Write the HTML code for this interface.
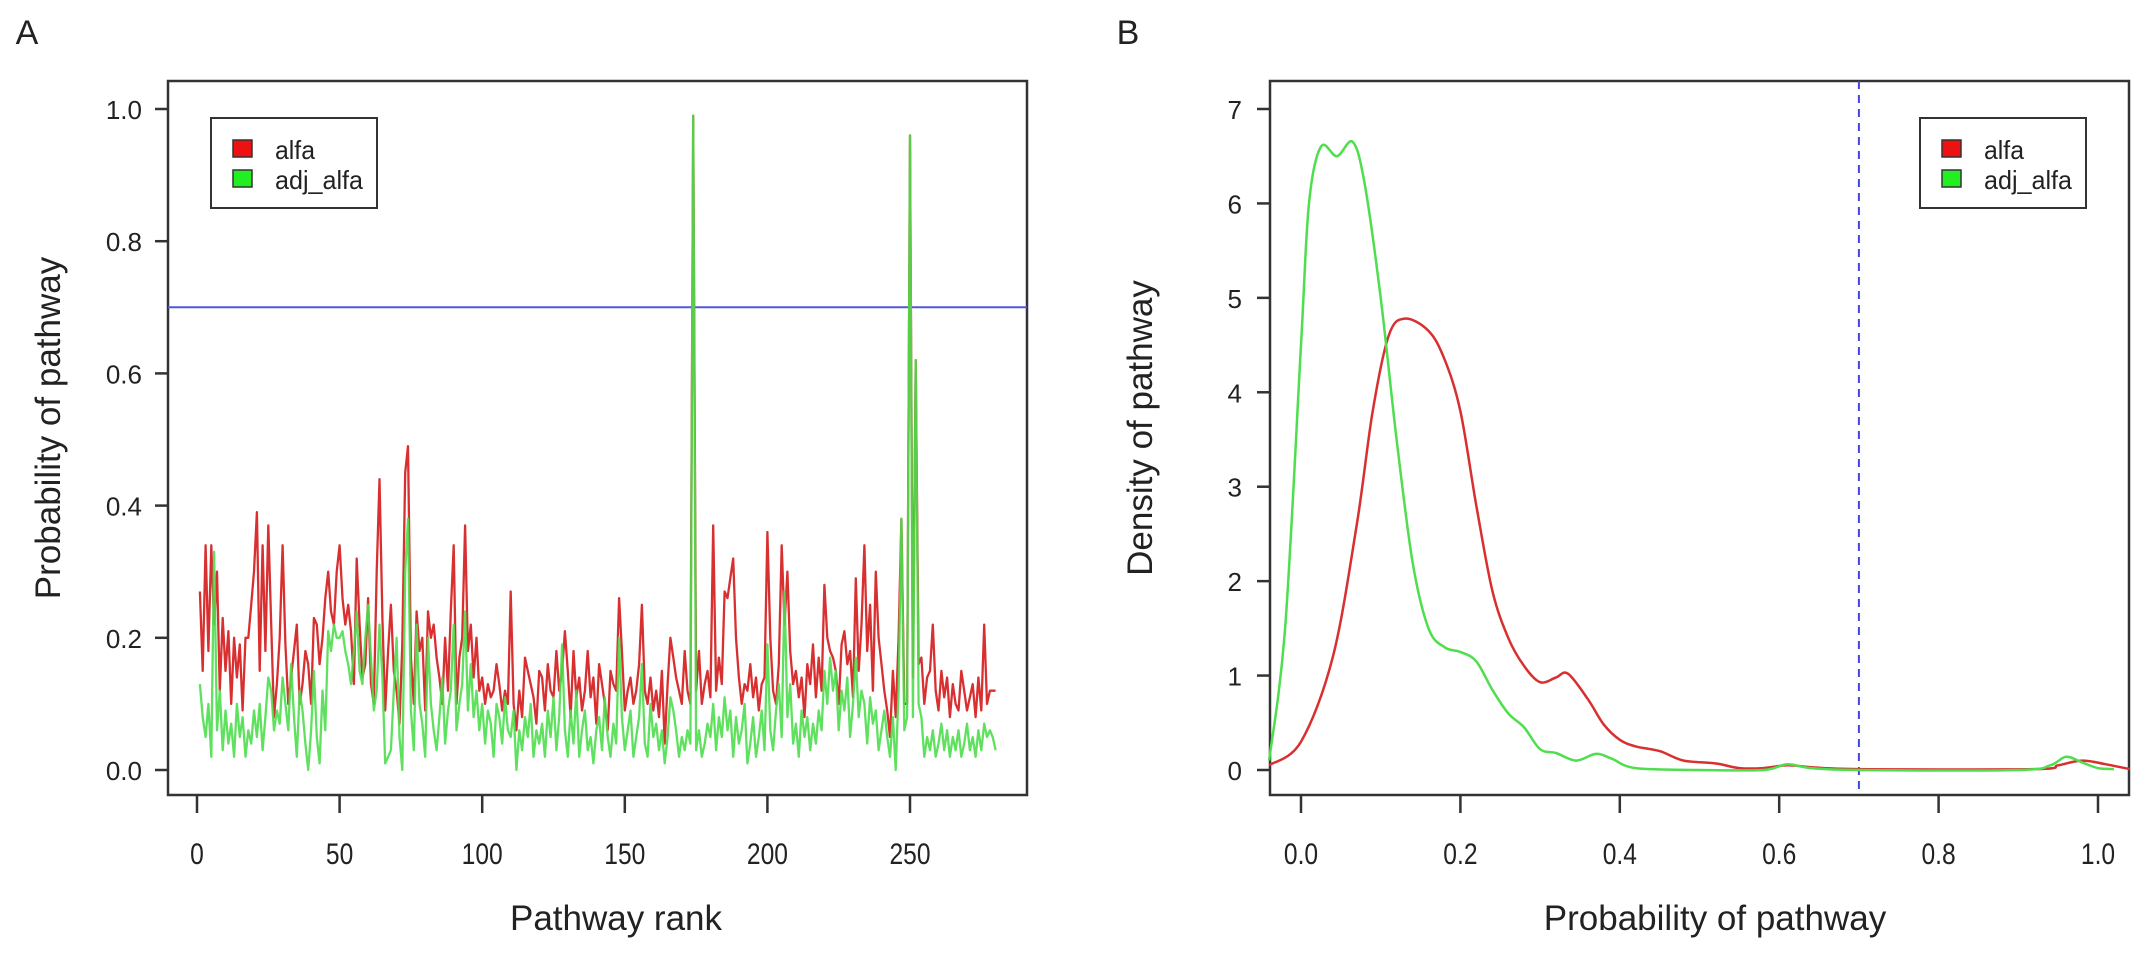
<!DOCTYPE html>
<html><head><meta charset="utf-8">
<style>
html,body{margin:0;padding:0;background:#fff;}
svg{display:block;font-family:"Liberation Sans",sans-serif;}
</style></head>
<body>
<svg id="chart" width="2150" height="958" viewBox="0 0 2150 958">
<rect x="0" y="0" width="2150" height="958" fill="#fff"/>
<g id="pa"></g>
<g id="pb"></g>
</svg>
<script>
const alfa = [
.27,.15,.34,.18,.34,.22,.30,.12,.23,.15,.21,.10,.20,.14,.19,.09,.20,.20,.25,.30,
.39,.15,.34,.18,.37,.22,.08,.13,.20,.34,.19,.10,.14,.18,.22,.10,.13,.18,.16,.10,
.23,.22,.16,.20,.26,.30,.24,.22,.30,.34,.26,.22,.25,.21,.13,.32,.22,.14,.16,.26,
.13,.10,.30,.44,.23,.09,.18,.25,.15,.12,.07,.19,.45,.49,.17,.10,.24,.18,.20,.09,
.24,.20,.22,.17,.14,.10,.20,.12,.24,.34,.10,.17,.20,.37,.18,.22,.14,.20,.12,.14,
.10,.13,.11,.12,.16,.13,.09,.12,.10,.27,.10,.06,.12,.08,.17,.15,.13,.11,.07,.15,
.14,.09,.16,.12,.11,.18,.12,.15,.21,.15,.08,.18,.11,.14,.09,.12,.18,.11,.14,.07,
.16,.13,.10,.06,.15,.13,.12,.26,.18,.09,.12,.14,.10,.12,.16,.25,.12,.10,.14,.09,
.12,.08,.15,.04,.13,.20,.17,.14,.12,.10,.18,.12,.10,.99,.12,.18,.10,.13,.15,.11,
.37,.12,.17,.13,.27,.26,.29,.32,.20,.14,.10,.13,.12,.16,.11,.14,.09,.13,.14,.36,
.20,.12,.10,.16,.34,.22,.30,.18,.13,.15,.11,.14,.08,.16,.13,.19,.11,.17,.12,.28,
.20,.18,.17,.15,.10,.19,.21,.16,.18,.11,.29,.15,.22,.34,.18,.25,.12,.30,.20,.16,
.12,.09,.05,.15,.08,.20,.38,.10,.10,.96,.14,.62,.16,.17,.10,.14,.15,.22,.12,.09,
.15,.11,.14,.08,.13,.10,.09,.15,.12,.09,.11,.13,.08,.14,.09,.22,.10,.12,.12,.12];
const adjAlfa = [
.13,.08,.05,.10,.02,.33,.06,.12,.03,.09,.04,.07,.02,.10,.05,.08,.02,.06,.04,.09,
.05,.10,.03,.08,.14,.12,.06,.09,.07,.14,.10,.06,.16,.08,.02,.12,.09,.04,.00,.06,
.15,.05,.01,.12,.06,.21,.18,.22,.20,.20,.21,.18,.16,.13,.18,.24,.15,.13,.20,.25,
.17,.09,.12,.22,.14,.01,.02,.03,.12,.20,.05,.00,.30,.38,.09,.03,.22,.10,.07,.02,
.20,.10,.06,.03,.08,.14,.04,.09,.12,.22,.06,.10,.13,.24,.09,.16,.08,.12,.06,.10,
.04,.09,.07,.02,.10,.08,.04,.11,.06,.05,.09,.00,.06,.03,.08,.05,.10,.02,.06,.04,
.07,.02,.09,.05,.11,.03,.08,.19,.06,.02,.09,.04,.12,.02,.06,.09,.03,.05,.01,.06,
.08,.03,.11,.05,.02,.07,.04,.20,.08,.03,.06,.09,.02,.05,.08,.16,.04,.02,.10,.05,
.07,.03,.06,.01,.05,.11,.09,.06,.02,.05,.03,.06,.04,.99,.03,.06,.02,.04,.07,.05,
.10,.03,.08,.05,.11,.06,.09,.02,.08,.04,.06,.10,.01,.04,.08,.02,.05,.09,.03,.19,
.06,.03,.09,.13,.05,.27,.08,.13,.04,.07,.02,.09,.05,.08,.03,.07,.04,.09,.06,.15,
.10,.17,.12,.15,.06,.12,.09,.14,.05,.10,.17,.08,.12,.10,.04,.11,.07,.09,.03,.06,
.09,.05,.02,.08,.00,.12,.38,.06,.08,.96,.08,.62,.10,.08,.02,.05,.03,.06,.02,.04,
.07,.03,.06,.02,.05,.03,.06,.02,.04,.07,.03,.05,.02,.06,.03,.07,.05,.06,.05,.03];
const aXTicks = [0,50,100,150,200,250];
const aYTicks = [0.0,0.2,0.4,0.6,0.8,1.0];
const aThreshold = 0.7;

const bGreenX = [-0.04,-0.02,0.0,0.01,0.025,0.045,0.065,0.08,0.1,0.12,0.14,0.16,0.18,0.2,0.22,0.24,0.26,0.28,0.3,0.32,0.345,0.37,0.39,0.42,0.5,0.58,0.61,0.64,0.7,0.9,0.94,0.96,0.98,1.0,1.02];
const bGreenY = [0.1,1.5,4.5,6.0,6.6,6.5,6.65,6.2,5.0,3.5,2.2,1.5,1.3,1.25,1.15,0.85,0.6,0.45,0.22,0.18,0.1,0.17,0.12,0.02,0,0,0.06,0.02,0,0,0.05,0.14,0.08,0.02,0.01];
const bRedX = [-0.04,0,0.04,0.07,0.09,0.11,0.13,0.16,0.18,0.2,0.22,0.24,0.26,0.28,0.3,0.32,0.335,0.36,0.38,0.4,0.42,0.45,0.48,0.52,0.55,0.58,0.61,0.64,0.7,0.92,0.95,0.98,1.01,1.04];
const bRedY = [0.05,0.3,1.2,2.6,3.8,4.6,4.78,4.65,4.35,3.8,2.8,1.9,1.4,1.1,0.93,0.98,1.02,0.75,0.48,0.32,0.25,0.2,0.1,0.07,0.02,0.02,0.05,0.03,0.01,0.01,0.05,0.1,0.06,0.01];
const bXTicks = [0.0,0.2,0.4,0.6,0.8,1.0];
const bXLabels = ["0.0","0.2","0.4","0.6","0.8","1.0"];
const bYTicks = [0,1,2,3,4,5,6,7];
const bThreshold = 0.7;

const NS="http://www.w3.org/2000/svg";
function mk(parent,tag,attrs,text){const e=document.createElementNS(NS,tag);for(const k in attrs)e.setAttribute(k,attrs[k]);if(text!==undefined)e.textContent=text;parent.appendChild(e);return e;}
const TXT="#222";
const RED="#d83030", GREEN="#4ede4e";

// Panel A
const pa=document.getElementById('pa');
const axX=v=>197+v*(910-197)/250;
const ayY=v=>770-v*661;
let e;
e=mk(pa,'text',{x:27,y:44,'font-size':34,'text-anchor':'middle',fill:TXT},'A');


e=mk(pa,'rect',{x:168,y:81,width:859,height:714,fill:'none',stroke:'#333','stroke-width':2.5});


aYTicks.forEach(t=>{
  const y=ayY(t);
  e=mk(pa,'line',{x1:155,x2:168,y1:y,y2:y,stroke:'#333','stroke-width':2.5});
  
  
  e=mk(pa,'text',{x:142,y:y+10,'font-size':26,'text-anchor':'end',fill:TXT},t.toFixed(1));
  
  
});
aXTicks.forEach(t=>{
  const x=axX(t);
  e=mk(pa,'line',{x1:x,x2:x,y1:795,y2:813,stroke:'#333','stroke-width':2.5});
  
  
  e=mk(pa,'text',{x:0,y:0,'font-size':30,'text-anchor':'middle',fill:TXT,transform:'translate('+x+',864) scale(0.82,1)'},String(t));
  
  
});
e=mk(pa,'text',{x:616,y:930,'font-size':35,'text-anchor':'middle',fill:TXT},'Pathway rank');


e=mk(pa,'text',{x:0,y:0,'font-size':35,'text-anchor':'middle',fill:TXT,transform:'translate(60,428) rotate(-90)'},'Probability of pathway');


e=mk(pa,'line',{x1:168,x2:1027,y1:ayY(aThreshold),y2:ayY(aThreshold),stroke:'#5555e0','stroke-width':2});


function pts(arr){return arr.map((v,i)=>axX(i+1).toFixed(1)+','+ayY(v).toFixed(1)).join(' ');}
e=mk(pa,'polyline',{points:pts(alfa),fill:'none',stroke:RED,'stroke-width':2.3,'stroke-linejoin':'round'});


e=mk(pa,'polyline',{points:pts(adjAlfa),fill:'none',stroke:GREEN,'stroke-width':2.3,'stroke-linejoin':'round','stroke-opacity':0.9});



function legend(parent,x,y,suffix){
  const g=mk(parent,'g',{});
  
  
  let r=mk(g,'rect',{x:x,y:y,width:166,height:90,fill:'#fff',stroke:'#333','stroke-width':2});
  
  
  r=mk(g,'rect',{x:x+22,y:y+22,width:19,height:17,fill:'#ee1111',stroke:'#333','stroke-width':1.5});
  
  
  r=mk(g,'rect',{x:x+22,y:y+52,width:19,height:17,fill:'#22ee22',stroke:'#333','stroke-width':1.5});
  
  
  r=mk(g,'text',{x:x+64,y:y+41,'font-size':26,fill:TXT,textLength:40,lengthAdjust:'spacingAndGlyphs'},'alfa');
  
  
  r=mk(g,'text',{x:x+64,y:y+71,'font-size':26,fill:TXT,textLength:88,lengthAdjust:'spacingAndGlyphs'},'adj_alfa');
  
  
}
legend(pa,211,118,'a');

// Panel B
const pb=document.getElementById('pb');
const bxX=v=>1301+v*797;
const byY=v=>770-v*94.43;
e=mk(pb,'text',{x:1128,y:44,'font-size':34,'text-anchor':'middle',fill:TXT},'B');


e=mk(pb,'rect',{x:1270,y:81,width:859,height:714,fill:'none',stroke:'#333','stroke-width':2.5});


bYTicks.forEach(t=>{
  const y=byY(t);
  e=mk(pb,'line',{x1:1257,x2:1270,y1:y,y2:y,stroke:'#333','stroke-width':2.5});
  
  
  e=mk(pb,'text',{x:1242,y:y+10,'font-size':26,'text-anchor':'end',fill:TXT},String(t));
  
  
});
bXTicks.forEach((t,i)=>{
  const x=bxX(t);
  e=mk(pb,'line',{x1:x,x2:x,y1:795,y2:813,stroke:'#333','stroke-width':2.5});
  
  
  e=mk(pb,'text',{x:0,y:0,'font-size':30,'text-anchor':'middle',fill:TXT,transform:'translate('+x+',864) scale(0.82,1)'},bXLabels[i]);
  
  
});
e=mk(pb,'text',{x:1715,y:930,'font-size':35,'text-anchor':'middle',fill:TXT},'Probability of pathway');


e=mk(pb,'text',{x:0,y:0,'font-size':35,'text-anchor':'middle',fill:TXT,transform:'translate(1152,428) rotate(-90)'},'Density of pathway');


e=mk(pb,'line',{x1:bxX(bThreshold),x2:bxX(bThreshold),y1:81,y2:795,stroke:'#4444dd','stroke-width':2,'stroke-dasharray':'8,6'});


function smooth(xs,ys){
  const p=xs.map((x,i)=>[bxX(x),byY(ys[i])]);
  let d='M'+p[0][0].toFixed(1)+','+p[0][1].toFixed(1);
  for(let i=0;i<p.length-1;i++){
    const p0=p[Math.max(0,i-1)],p1=p[i],p2=p[i+1],p3=p[Math.min(p.length-1,i+2)];
    const c1=[p1[0]+(p2[0]-p0[0])/6,p1[1]+(p2[1]-p0[1])/6];
    const c2=[p2[0]-(p3[0]-p1[0])/6,p2[1]-(p3[1]-p1[1])/6];
    d+=' C'+c1.map(v=>v.toFixed(1)).join(',')+' '+c2.map(v=>v.toFixed(1)).join(',')+' '+p2[0].toFixed(1)+','+p2[1].toFixed(1);
  }
  return d;
}
e=mk(pb,'path',{d:smooth(bRedX,bRedY),fill:'none',stroke:RED,'stroke-width':2.5});


e=mk(pb,'path',{d:smooth(bGreenX,bGreenY),fill:'none',stroke:GREEN,'stroke-width':2.5});


legend(pb,1920,118,'b');
</script>
</body></html>
